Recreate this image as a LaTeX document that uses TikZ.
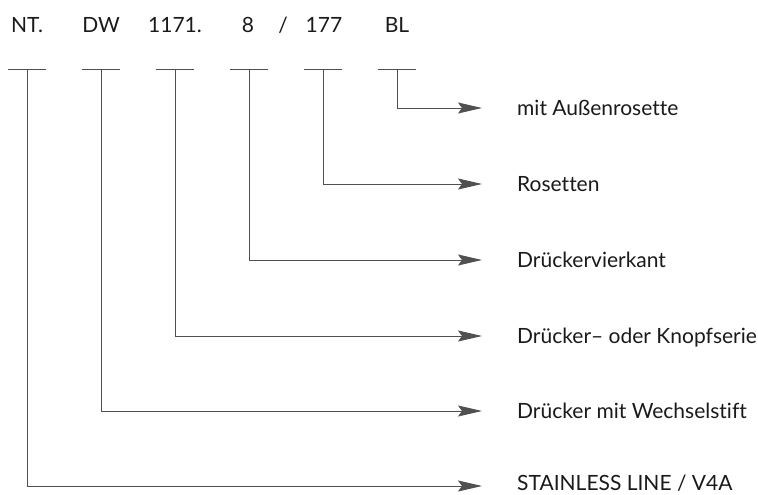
\documentclass[tikz,border=0pt]{standalone}
\usepackage{fontspec}
\setmainfont[Ligatures=NoCommon]{Lato}
\usetikzlibrary{arrows.meta}
\definecolor{ln}{HTML}{505050}
\definecolor{tx}{HTML}{1A1A1A}
\tikzset{
  lbl/.style={anchor=west, inner sep=0pt, text height=15pt, text depth=0pt, text=tx, font=\fontsize{21}{24}\selectfont},
  code/.style={inner sep=0pt, text height=15pt, text depth=0pt, text=tx, font=\fontsize{21}{24}\selectfont},
  bar/.style={draw=ln, line width=1pt},
  conn/.style={draw=ln, line width=1pt, -{Stealth[length=24pt,width=11pt,inset=4pt]}}
}
\begin{document}
\begin{tikzpicture}[x=1pt,y=-1pt]
\useasboundingbox (0,0) rectangle (758,495);
% top codes
\node[code] (c1) at (27,25) {NT.};
\node[code] (c2) at (101,25) {DW};
\node[code] (c3) at (175,25) {1171.};
\node[code] (c4) at (248,25) {8};
\node[code] (c45) at (283,25) {/};
\node[code] (c5) at (324,25) {177};
\node[code] (c6) at (397,25) {BL};
% bars
\foreach \i/\x in {1/27,2/101,3/175,4/249,5/323,6/397}{
  \coordinate (b\i) at (\x,70);
  \draw[bar] (\x-19,70) -- (\x+19,70);
}
% labels
\node[lbl] (l6) at (517,108) {mit Außenrosette};
\node[lbl] (l5) at (517,184) {Rosetten};
\node[lbl] (l4) at (517,260) {Drückervierkant};
\node[lbl] (l3) at (517,336) {Drücker– oder Knopfserie};
\node[lbl] (l2) at (517,411) {Drücker mit Wechselstift};
\node[lbl] (l1) at (517,483) {STAINLESS LINE / V4A};
% arrow tips
\foreach \i/\y in {1/486,2/411,3/336,4/260,5/184,6/108}{
  \coordinate (t\i) at (482,\y);
  \draw[conn] (b\i) |- (t\i);
}
\end{tikzpicture}
\end{document}
